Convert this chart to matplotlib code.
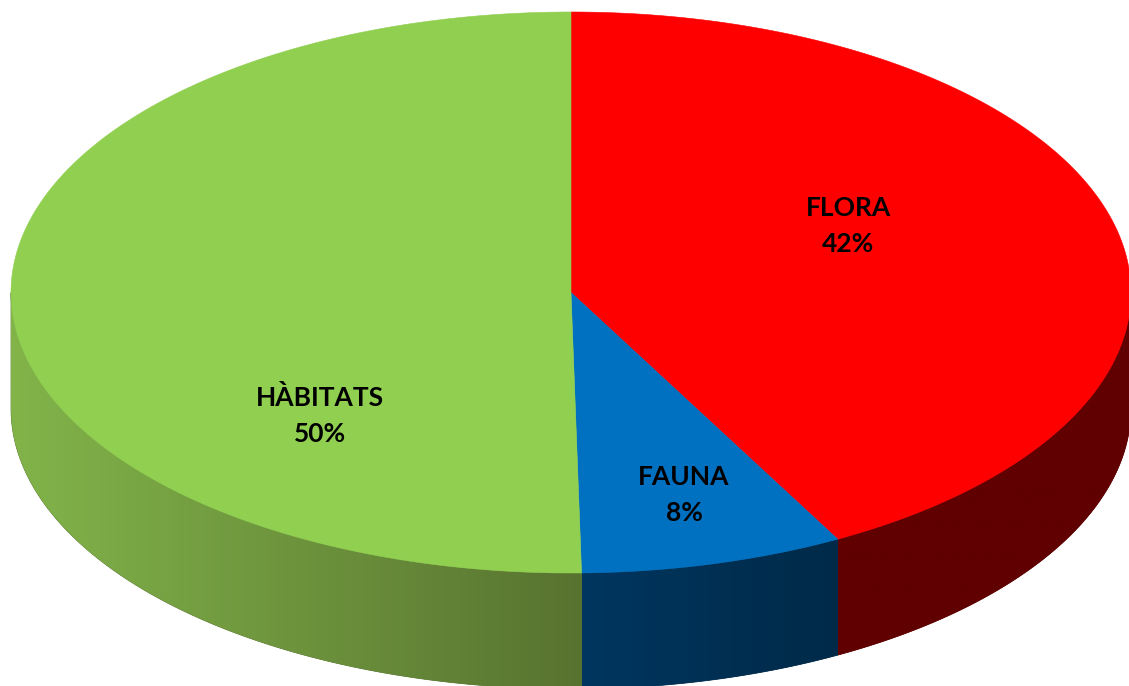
import numpy as np
import matplotlib
matplotlib.use("Agg")
import matplotlib.pyplot as plt
from matplotlib.patches import Polygon, PathPatch
from matplotlib.path import Path
from matplotlib.colors import LinearSegmentedColormap

categories = ["FLORA", "FAUNA", "HÀBITATS"]
values = [42.1, 7.6, 50.3]
labels = ["42%", "8%", "50%"]
top_colors = ["#FF0000", "#0070C0", "#90CF50"]
side_left = ["#600000", "#003660", "#82B44A"]
side_right = ["#600000", "#002A48", "#587330"]
label_pos = [(848, 226), (684, 495), (320, 416)]

W, H = 1129, 686
CX, CY, RX, RY, DEPTH = 571, 292.5, 560, 280.5, 116

plt.rcParams["font.family"] = ["Lato", "DejaVu Sans"]
fig = plt.figure(figsize=(W / 100, H / 100), dpi=100)
ax = fig.add_axes([0, 0, 1, 1])
ax.axis("off")


def rim(t0, t1, n=240, dy=0.0):
    t = np.radians(np.linspace(t0, t1, n))
    return np.column_stack([CX + RX * np.sin(t), CY + dy - RY * np.cos(t)])


edges = np.concatenate([[0], np.cumsum(values)]) * 3.6
spans = list(zip(edges[:-1], edges[1:]))

# Side walls, only the front half of the disc is visible
for (t0, t1), cl, cr in zip(spans, side_left, side_right):
    a, b = max(t0, 90), min(t1, 270)
    if a >= b:
        continue
    poly = np.vstack([rim(a, b), rim(a, b, dy=DEPTH)[::-1]])
    # solid base hides the hairline between clipped gradients
    ax.add_patch(Polygon(poly, closed=True, fc=cr, ec=cr, lw=0.5, zorder=0.5))
    path = Path(np.vstack([poly, poly[:1]]), closed=True)
    patch = PathPatch(path, fc="none", ec="none", transform=ax.transData)
    ax.add_patch(patch)
    x0, x1 = poly[:, 0].min(), poly[:, 0].max()
    y0, y1 = poly[:, 1].min(), poly[:, 1].max()
    cmap = LinearSegmentedColormap.from_list("g", [cl, cr])
    im = ax.imshow(np.linspace(0, 1, 256).reshape(1, -1), cmap=cmap, aspect="auto",
                   extent=[x0, x1, y1, y0], interpolation="bilinear", zorder=1)
    im.set_clip_path(patch)
ax.set_xlim(0, W)
ax.set_ylim(H, 0)

# Top face
for (t0, t1), c in zip(spans, top_colors):
    pts = np.vstack([[CX, CY], rim(t0, t1, 400)])
    ax.add_patch(Polygon(pts, closed=True, fc=c, ec=c, lw=0.4, zorder=2))

# Labels
for name, lab, (x, y) in zip(categories, labels, label_pos):
    ax.text(x, y, f"{name}\n{lab}", ha="center", va="center", fontsize=19,
            fontweight="bold", color="black", linespacing=1.6, zorder=3)

fig.savefig("out.png", dpi=100, facecolor="white")
